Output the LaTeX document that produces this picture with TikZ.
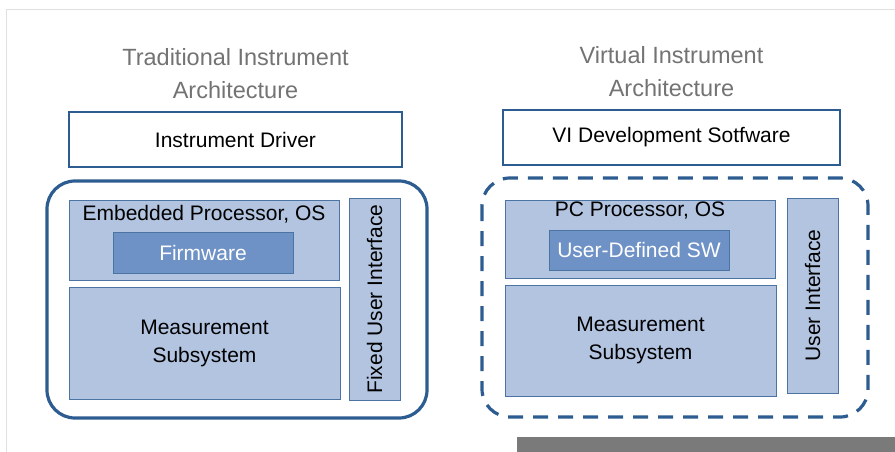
\documentclass[tikz,border=0pt]{standalone}
\usepackage{fontspec}
\setmainfont{Liberation Sans}
\usepackage{tikz}
\usetikzlibrary{positioning}
\definecolor{frameblue}{RGB}{45,92,145}
\definecolor{hwfill}   {RGB}{178,196,224}
\definecolor{swfill}   {RGB}{110,145,198}
\definecolor{titlegray}{RGB}{115,115,115}
\definecolor{scangray} {RGB}{122,122,122}

\begin{document}
\begin{tikzpicture}[
  x=1pt, y=-1pt,
  archtitle/.style={font=\fontsize{23.5}{33}\selectfont, text=titlegray,
    align=center, inner sep=0pt},
  drvbox/.style={rectangle, draw=frameblue, line width=2.2pt, fill=white,
    font=\fontsize{21}{26}\selectfont, inner sep=0pt},
  hwbox/.style={rectangle, draw=frameblue!85, line width=0.9pt, fill=hwfill,
    font=\fontsize{21}{28}\selectfont, align=center, inner sep=0pt},
  swbox/.style={rectangle, draw=frameblue!85, line width=0.9pt, fill=swfill,
    text=white, font=\fontsize{21}{26}\selectfont, inner sep=0pt},
  boxlabel/.style={font=\fontsize{21}{26}\selectfont, inner sep=0pt},
  shell/.style={draw=frameblue, line width=3.2pt, rounded corners=28pt},
]
\useasboundingbox (0,0) rectangle (895,452);

% scanned page edge
\draw[black!12, line width=1pt] (6,452) -- (6,10) -- (895,10);
\fill[scangray] (517,437) rectangle (895,452);

% Traditional instrument
\node[drvbox, minimum width=333pt, minimum height=55pt] (drv) at (235.5,139.5)
  {Instrument Driver};
\node[archtitle, above=12pt of drv] (tradtitle)
  {Traditional Instrument\\Architecture};
\draw[shell] (47,181) rectangle (427,418);
\node[hwbox, minimum width=270pt, minimum height=80pt] (embproc) at (204,240) {};
\node[boxlabel] (embtxt) at (204,214) {Embedded Processor, OS};
\node[swbox, minimum width=180pt, minimum height=41pt] (firmware) at (203,252.5)
  {Firmware};
\node[hwbox, minimum width=271pt, minimum height=112pt] (meas) at (204.5,343)
  {Measurement\\Subsystem};
\node[hwbox, minimum width=51pt, minimum height=202pt] (fixedui) at (374.5,299) {};
\node[boxlabel, rotate=90] (fixeduitxt) at (fixedui) {Fixed User Interface};

% Virtual instrument
\node[drvbox, minimum width=337pt, minimum height=55pt] (videv) at (671.5,137.5)
  {VI Development Sotfware};
\node[archtitle, above=12pt of videv] (virttitle)
  {Virtual Instrument\\Architecture};
\draw[shell, dash pattern=on 15pt off 10pt] (482,178) rectangle (868,417);
\node[hwbox, minimum width=270pt, minimum height=78pt] (pcproc) at (640,239) {};
\node[boxlabel] (pctxt) at (640,211) {PC Processor, OS};
\node[swbox, minimum width=180pt, minimum height=40pt] (usersw) at (639,250)
  {User-Defined SW};
\node[hwbox, minimum width=271pt, minimum height=111pt] (meas2) at (640.5,340.5)
  {Measurement\\Subsystem};
\node[hwbox, minimum width=51pt, minimum height=195pt] (ui) at (812.5,295.5) {};
\node[boxlabel, rotate=90] (uitxt) at (ui) {User Interface};

\end{tikzpicture}
\end{document}
